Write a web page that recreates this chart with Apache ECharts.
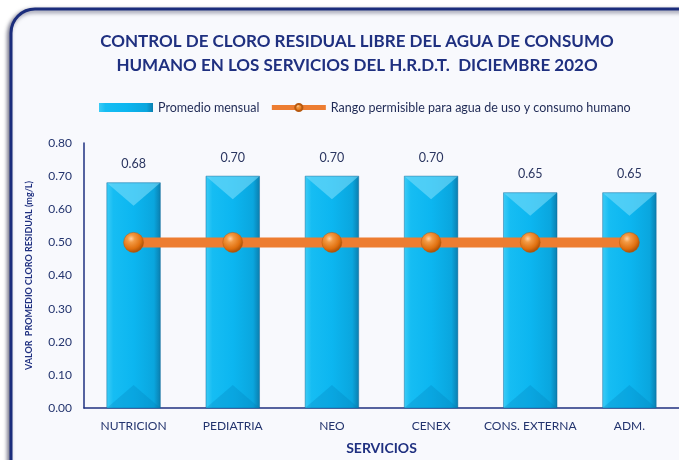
<!DOCTYPE html>
<html>
<head>
<meta charset="utf-8">
<script src="https://cdn.jsdelivr.net/npm/echarts@6/dist/echarts.min.js"></script>
<style>
  html, body { margin: 0; padding: 0; background: #fff; }
  #chart { width: 679px; height: 460px; }
</style>
</head>
<body>
<div id="chart"></div>
<script>
const servicios = ["NUTRICION", "PEDIATRIA", "NEO", "CENEX", "CONS. EXTERNA", "ADM."];
const promedioMensual = [0.68, 0.70, 0.70, 0.70, 0.65, 0.65];
const rangoPermisible = [0.50, 0.50, 0.50, 0.50, 0.50, 0.50];
const yTicks = [0, 0.8, 0.1];

const navy = "#1f3080";
const textNavy = "#23346e";

const chart = echarts.init(document.getElementById("chart"));

const barGradient = new echarts.graphic.LinearGradient(0, 0, 1, 0, [
  { offset: 0, color: "#3ccbf5" },
  { offset: 0.12, color: "#16bdf3" },
  { offset: 0.5, color: "#0cb6f0" },
  { offset: 0.88, color: "#0aa6de" },
  { offset: 1, color: "#0b7fb0" },
]);

const sphere = new echarts.graphic.RadialGradient(0.38, 0.32, 0.7, [
  { offset: 0, color: "#ffd0a0" },
  { offset: 0.25, color: "#f39a44" },
  { offset: 0.7, color: "#e0700f" },
  { offset: 1, color: "#a44d06" },
]);

// bevel decoration drawn over each bar through the axis scales
function renderBevel(params, api) {
  const top = api.coord([api.value(0), api.value(1)]);
  const bottom = api.coord([api.value(0), 0]);
  const w = api.size([1, 0])[0] * 0.54;
  const x0 = top[0] - w / 2, x1 = top[0] + w / 2;
  const d = Math.min(23, (bottom[1] - top[1]) / 2);
  return {
    type: "group",
    silent: true,
    children: [
      {
        type: "polygon",
        shape: { points: [[x0, top[1]], [x1, top[1]], [top[0], top[1] + d]] },
        style: { fill: "rgba(120,220,250,0.6)" },
      },
      {
        type: "polygon",
        shape: { points: [[x0, bottom[1]], [x1, bottom[1]], [top[0], bottom[1] - d]] },
        style: { fill: "rgba(0,120,180,0.25)" },
      },
      {
        type: "rect",
        shape: { x: x0, y: top[1], width: w, height: bottom[1] - top[1] },
        style: { fill: "none", stroke: "rgba(10,100,150,0.45)", lineWidth: 1 },
      },
    ],
  };
}

const option = {
  backgroundColor: "#ffffff",
  animation: false,
  graphic: [
    {
      type: "rect",
      z: -10,
      shape: { x: 11, y: 9, width: 720, height: 500, r: 24 },
      style: {
        fill: "#f8f9fd",
        stroke: "#1b2d7c",
        lineWidth: 3,
        shadowBlur: 4,
        shadowOffsetX: -2,
        shadowOffsetY: 2,
        shadowColor: "rgba(0,0,40,0.5)",
      },
    },
  ],
  title: {
    text: "CONTROL DE CLORO RESIDUAL LIBRE DEL AGUA DE CONSUMO\nHUMANO EN LOS SERVICIOS DEL H.R.D.T.  DICIEMBRE 202O",
    left: 352,
    top: 25,
    textAlign: "center",
    textStyle: {
      fontFamily: "Lato",
      fontWeight: "bold",
      fontSize: 17,
      lineHeight: 24,
      color: navy,
    },
  },
  legend: {
    left: 94,
    top: 96,
    itemGap: 10,
    itemWidth: 54,
    itemHeight: 9,
    textStyle: { fontFamily: "Lato", fontSize: 12.5, color: "#1f2a55" },
    data: [
      { name: "Promedio mensual", icon: "rect" },
      {
        name: "Rango permisible para agua de uso y consumo humano",
        lineStyle: { width: 5 },
      },
    ],
  },
  grid: { left: 84, top: 143, width: 600, height: 266 },
  xAxis: {
    type: "category",
    data: servicios,
    name: "SERVICIOS",
    nameLocation: "middle",
    nameGap: 33,
    nameTextStyle: { fontFamily: "Lato", fontWeight: "bold", fontSize: 14, color: navy },
    axisLine: { lineStyle: { color: navy, width: 1.5 } },
    axisTick: { show: false },
    axisLabel: { interval: 0, fontFamily: "Lato", fontSize: 12, color: textNavy, margin: 12 },
  },
  yAxis: {
    type: "value",
    min: yTicks[0],
    max: yTicks[1],
    interval: yTicks[2],
    name: "VALOR  PROMEDIO CLORO RESIDUAL (mg/L)",
    nameLocation: "middle",
    nameGap: 50,
    nameTextStyle: { fontFamily: "Lato", fontWeight: "bold", fontSize: 9, color: navy },
    axisLine: { show: true, lineStyle: { color: navy, width: 1.5 } },
    axisTick: { show: false },
    splitLine: { show: false },
    axisLabel: {
      fontFamily: "Lato",
      fontSize: 12,
      color: textNavy,
      margin: 12,
      formatter: (v) => v.toFixed(2),
    },
  },
  series: [
    {
      name: "Promedio mensual",
      type: "bar",
      data: promedioMensual,
      barWidth: "54%",
      itemStyle: { color: barGradient },
      label: {
        show: true,
        position: "top",
        distance: 12,
        fontFamily: "Lato",
        fontSize: 12.5,
        color: "#2a3560",
        formatter: (p) => p.value.toFixed(2),
      },
      z: 2,
    },
    {
      type: "custom",
      renderItem: renderBevel,
      data: promedioMensual.map((v, i) => [i, v]),
      encode: { x: 0, y: 1 },
      silent: true,
      z: 3,
    },
    {
      name: "Rango permisible para agua de uso y consumo humano",
      type: "line",
      data: rangoPermisible,
      symbol: "circle",
      symbolSize: 20,
      lineStyle: { color: "#ed7d31", width: 10 },
      itemStyle: { color: sphere, borderColor: "#b85a10", borderWidth: 0.5 },
      z: 5,
    },
  ],
};

chart.setOption(option);
</script>
</body>
</html>
